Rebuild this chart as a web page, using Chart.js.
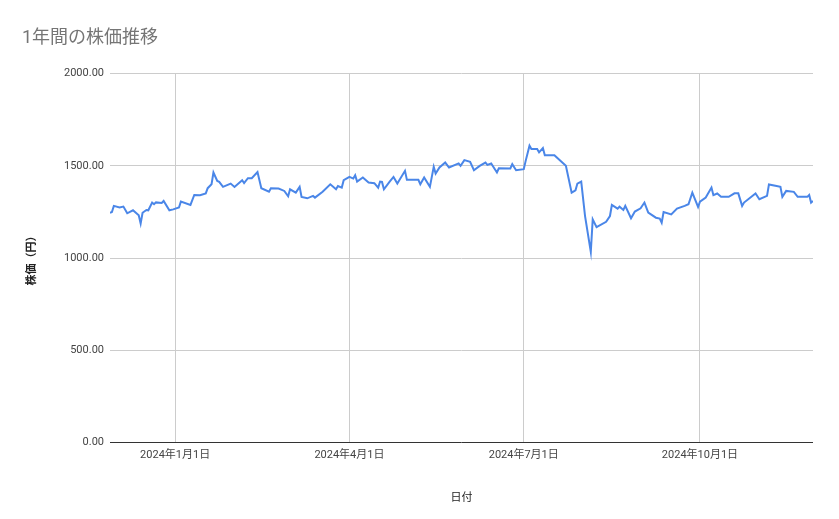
<!DOCTYPE html>
<html><head><meta charset="utf-8">
<script src="https://cdn.jsdelivr.net/npm/chart.js@4.4.1/dist/chart.umd.min.js"></script>
<style>body{margin:0;background:#fff}</style>
</head><body>
<canvas id="c" width="839" height="519"></canvas>
<script>
// days counted from 2024-01-01
const days = [-34,-33,-32,-29,-27,-25,-22,-19,-18,-17,-15,-14,-12,-11,-10,-7,-6,-3,-1,2,3,8,10,13,16,17,19,20,22,23,25,29,31,35,36,38,40,43,45,49,50,54,57,59,60,63,65,66,69,72,73,77,81,84,85,87,
  88,91,93,94,95,98,101,104,106,107,108,109,112,114,116,120,121,127,128,130,133,135,136,138,141,143,148,149,151,154,156,159,162,163,165,168,169,175,176,178,182,183,185,186,189,190,192,193,198,204,207,209,
  210,212,214,217,218,220,225,227,228,231,232,234,235,238,240,243,245,247,251,253,254,255,259,262,266,268,270,273,274,277,280,281,283,285,289,292,294,296,297,303,305,309,310,314,316,317,319,323,325,330,331,332,333];
const prices = [1245,1250,1283,1274,1279,1243,1259,1232,1187,1246,1261,1259,1301,1292,1302,1299,1310,1259,1264,1274,1306,1288,1342,1341,1351,1379,1400,1464,1418,1413,1386,1404,1386,1422,1407,1433,1433,1466,1379,1360,1379,1377,1364,1335,1373,1355,1386,1332,1324,1337,1328,1360,1400,1373,1391,1382,
  1422,1440,1431,1449,1415,1437,1410,1406,1382,1415,1413,1373,1415,1440,1404,1473,1424,1424,1400,1437,1386,1495,1458,1491,1518,1491,1513,1500,1531,1522,1476,1500,1518,1505,1513,1464,1487,1486,1509,1476,1482,1527,1609,1591,1591,1573,1596,1558,1558,1500,1355,1367,
  1404,1415,1228,1034,1210,1168,1197,1228,1288,1268,1279,1261,1283,1216,1252,1270,1301,1246,1219,1214,1192,1250,1237,1268,1283,1292,1355,1277,1306,1328,1382,1341,1350,1333,1332,1351,1351,1283,1301,1350,1319,1337,1399,1391,1386,1332,1364,1359,1332,1332,1342,1301,1310];
const tickDays = [0, 91, 182, 274];
const tickLabels = ['2024年1月1日', '2024年4月1日', '2024年7月1日', '2024年10月1日'];
const yTicks = [0, 500, 1000, 1500, 2000];

const font = "'Roboto', 'Noto Sans CJK JP', sans-serif";
new Chart(document.getElementById('c'), {
  type: 'line',
  data: {
    datasets: [{
      data: days.map((d, i) => ({ x: d, y: prices[i] })),
      borderColor: '#4a86e8',
      borderWidth: 2,
      pointRadius: 0,
      tension: 0
    }]
  },
  options: {
    responsive: false,
    animation: false,
    layout: { padding: { left: 22, right: 26, top: 10, bottom: 10 } },
    plugins: {
      legend: { display: false },
      title: {
        display: true, text: '1年間の株価推移', align: 'start',
        color: '#757575', font: { family: font, size: 18, weight: 'normal' },
        padding: { top: 18, bottom: 24 }
      }
    },
    scales: {
      x: {
        type: 'linear', min: -34, max: 333,
        afterBuildTicks: s => { s.ticks = tickDays.map(v => ({ value: v })); },
        ticks: { callback: (v) => tickLabels[tickDays.indexOf(v)], color: '#444', font: { family: font, size: 11 }, maxRotation: 0, padding: 6 },
        grid: { color: '#ccc', drawTicks: false },
        border: { display: false },
        title: { display: true, text: '日付', color: '#222', font: { family: font, size: 11 }, padding: { top: 24 } }
      },
      y: {
        min: 0, max: 2000,
        afterBuildTicks: s => { s.ticks = yTicks.map(v => ({ value: v })); },
        afterFit: s => { s.width = 88; },
        ticks: { callback: v => v.toFixed(2), color: '#444', font: { family: font, size: 11 }, padding: 6 },
        grid: { color: c => c.tick && c.tick.value === 0 ? '#333' : '#ccc', drawTicks: false },
        border: { display: false },
        title: { display: true, text: '株価（円）', color: '#222', font: { family: font, size: 11, weight: 'bold' }, padding: { bottom: 12 } }
      }
    }
  }
});
</script>
</body></html>
